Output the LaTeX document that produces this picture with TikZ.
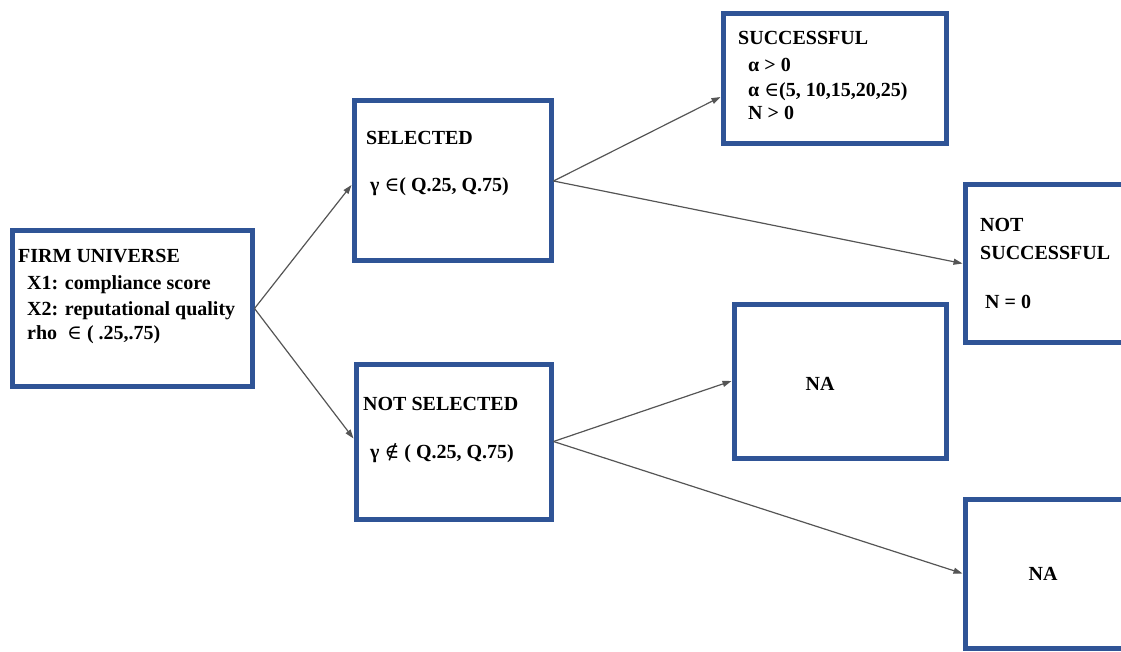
\documentclass[tikz,border=0pt]{standalone}
\usepackage{fontspec}
\setmainfont{Liberation Serif}
\newfontfamily\setsym{DejaVu Serif}
\usetikzlibrary{arrows.meta}
\definecolor{boxblue}{RGB}{47,84,150}
\definecolor{linkgray}{RGB}{85,85,85}
\newcommand{\elem}{{\setsym\mdseries ∈}}
\newcommand{\nelem}{{\setsym\mdseries ∉}}
\tikzset{
  box/.style={draw=boxblue, line width=5pt, rectangle, fill=white},
  txt/.style={anchor=base west, inner sep=0pt, font=\fontsize{20}{24}\selectfont\bfseries},
  link/.style={draw=linkgray, line width=1.2pt, -{Triangle[length=9pt,width=6pt]}}
}

\begin{document}
\begin{tikzpicture}[x=1pt,y=-1pt]
    \useasboundingbox (0,0) rectangle (1121,652);
    \clip (0,0) rectangle (1121,652);

    % boxes
    \node[box, minimum width=240pt, minimum height=155pt] (firm) at (132,308.5) {};
    \node[box, minimum width=197pt, minimum height=160pt] (sel) at (452.5,181) {};
    \node[box, minimum width=195pt, minimum height=155pt] (nsel) at (453.5,441.5) {};
    \node[box, minimum width=223pt, minimum height=130pt] (succ) at (834.5,79) {};
    \node[box, minimum width=200pt, minimum height=157pt] (nsucc) at (1065,263.5) {};
    \node[box, minimum width=212pt, minimum height=154pt] (na1) at (840,381) {};
    \node[box, minimum width=200pt, minimum height=149pt] (na2) at (1065,573.5) {};

    % texts
    \node[txt] (firm1) at (18,262) {FIRM UNIVERSE};
    \node[txt] (firm2) at (27,290) {X1: compliance score};
    \node[txt] (firm3) at (27,315) {X2: reputational quality};
    \node[txt] (firm4) at (27,339) {rho \ \elem\ ( .25,.75)};

    \node[txt] (sel1) at (366,145) {SELECTED};
    \node[txt] (sel2) at (370,192) {γ \elem( Q.25, Q.75)};

    \node[txt] (nsel1) at (363,410) {NOT SELECTED};
    \node[txt] (nsel2) at (370,458) {γ \nelem\ ( Q.25, Q.75)};

    \node[txt] (succ1) at (738,45) {SUCCESSFUL};
    \node[txt] (succ2) at (748,72) {α > 0};
    \node[txt] (succ3) at (748,97) {α \elem(5, 10,15,20,25)};
    \node[txt] (succ4) at (748,120) {N > 0};

    \node[txt] (nsucc1) at (980,232) {NOT};
    \node[txt] (nsucc2) at (980,260) {SUCCESSFUL};
    \node[txt] (nsucc3) at (985,308) {N = 0};

    \node[txt, anchor=base] (na1t) at (820,390) {NA};
    \node[txt, anchor=base] (na2t) at (1043,580) {NA};

    % links
    \draw[link] (firm.east) -- ([yshift=-4pt]sel.west);
    \draw[link] (firm.east) -- ([yshift=3pt]nsel.west);
    \draw[link] (sel.east) -- ([yshift=-18pt]succ.west);
    \draw[link] (sel.east) -- (nsucc.west);
    \draw[link] (nsel.east) -- (na1.west);
    \draw[link] (nsel.east) -- (na2.west);
\end{tikzpicture}
\end{document}
